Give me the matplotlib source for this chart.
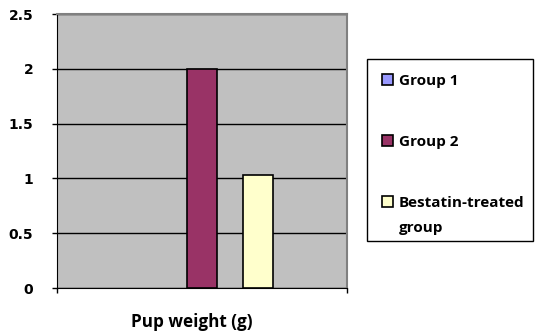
import matplotlib
matplotlib.use('Agg')
import matplotlib.pyplot as plt
from matplotlib.patches import Rectangle
from matplotlib.font_manager import FontProperties
import numpy as np

# data
series = ['Group 1', 'Group 2', 'Bestatin-treated\ngroup']
values = [0.0, 2.0, 1.03]
colors = ['#9999FF', '#993366', '#FFFFCC']
category = 'Pup weight (g)'
yticks = [0, 0.5, 1, 1.5, 2, 2.5]

W, H = 535, 335
fig = plt.figure(figsize=(W / 100, H / 100), dpi=100)
ax = fig.add_axes([57 / W, 1 - 288 / H, 290 / W, 274 / H])
ax.set_facecolor('#C0C0C0')


def px(x, y):
    # pixel position (from top-left) -> figure fraction
    return x / W, 1 - y / H


# bar positions inside the single category
bw = 0.1034
offsets = (np.arange(len(series)) - 1) * 0.193
for off, v, c in zip(offsets, values, colors):
    ax.bar(off, v, width=bw, color=c, edgecolor='black',
           linewidth=1.2 if v > 0 else 0, zorder=3)

ax.set_xlim(-0.5, 0.5)
ax.set_ylim(0, 2.5)
ax.set_yticks(yticks)
ax.set_yticklabels(['0', '0.5', '1', '1.5', '2', '2.5'],
                   fontsize=10, fontweight='bold', family='DejaVu Sans')
ax.set_xticks([-0.5, 0.5])
ax.set_xticklabels([])
ax.tick_params(axis='y', length=3.6, width=1, pad=13.5)
ax.tick_params(axis='x', length=3.6, width=1)
ax.yaxis.grid(True, color='black', linewidth=1, zorder=1)
ax.set_axisbelow(True)

for s in ['top', 'right']:
    ax.spines[s].set_color('#808080')
    ax.spines[s].set_linewidth(1.5)
ax.spines['left'].set_color('black')
ax.spines['bottom'].set_color('black')

lab_font = FontProperties(family='Open Sans', weight='bold', size=12.3)
ax.text(0.466, -0.142, category, transform=ax.transAxes, ha='center',
        va='baseline', fontproperties=lab_font)

# legend box, drawn from the series / colours lists
fig.add_artist(Rectangle(px(367, 241), 166 / W, 182 / H, transform=fig.transFigure,
                         facecolor='white', edgecolor='black', linewidth=1))
leg_font = FontProperties(family='Open Sans', weight='bold', size=11)
base_y = [84.5, 145.7, 206.7]
for lab, c, by in zip(series, colors, base_y):
    fig.add_artist(Rectangle(px(382, by), 11 / W, 11 / H, transform=fig.transFigure,
                             facecolor=c, edgecolor='black', linewidth=1.2))
    for i, line in enumerate(lab.split('\n')):
        x, y = px(399, by + i * 25)
        fig.text(x, y, line, fontproperties=leg_font, va='baseline', ha='left')

fig.savefig('out.png', dpi=100)
